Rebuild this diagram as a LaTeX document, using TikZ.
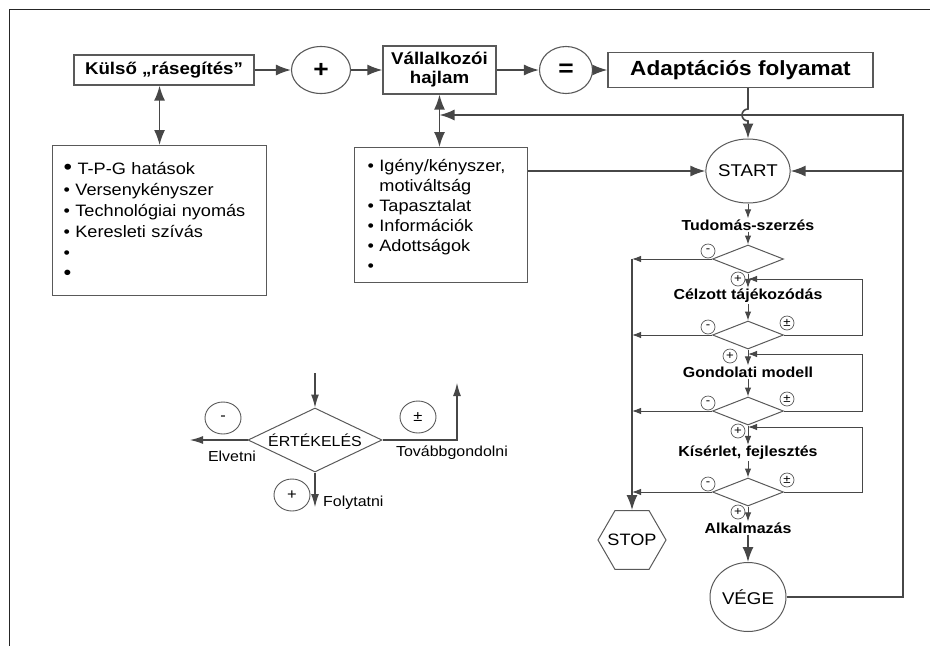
\documentclass[tikz,border=0pt]{standalone}
\usepackage{fontspec}
\setmainfont[FakeStretch=1.1]{Liberation Sans}
\usetikzlibrary{shapes.geometric,arrows.meta}

\begin{document}
\begin{tikzpicture}[x=1pt,y=-1pt,
  line/.style={draw=black!72, line width=1.6pt, >={Latex[length=15pt,width=11pt]}},
  thin line/.style={draw=black!72, line width=1pt, >={Latex[length=9pt,width=6.5pt]}},
  legend line/.style={draw=black!72, line width=1.1pt, >={Latex[length=13pt,width=8pt]}},
  topbox/.style={draw=black!65, line width=1.3pt, inner sep=0pt, align=center, font=\bfseries\fontsize{17}{19}\selectfont},
  opcircle/.style={ellipse, draw=black!65, line width=1.1pt, inner sep=0pt, minimum height=47, font=\bfseries\fontsize{24}{24}\selectfont},
  listbox/.style={draw=black!65, line width=1.1pt, anchor=north west, align=left, inner ysep=0pt, inner xsep=11pt},
  test/.style={diamond, draw=black!65, line width=1pt, minimum width=71, minimum height=28, inner sep=0pt, aspect=2},
  phase/.style={inner sep=1pt, font=\bfseries\fontsize{14.5}{16}\selectfont},
  terminal/.style={ellipse, draw=black!65, line width=1pt, inner sep=0pt, font=\fontsize{17}{18}\selectfont},
  sign/.style={circle, draw=black!65, line width=0.7pt, minimum size=14, inner sep=0pt, font=\fontsize{12}{12}\selectfont},
  bigsign/.style={ellipse, draw=black!65, line width=0.9pt, minimum width=36, minimum height=32, inner sep=0pt, font=\fontsize{15}{15}\selectfont},
  note/.style={inner sep=1pt, font=\fontsize{14.5}{16}\selectfont}]

\useasboundingbox (0,0) rectangle (930,646);
\draw[black!85, line width=1pt] (9,646) -- (9,9) -- (930,9);

% top row
\node[topbox, minimum width=180, minimum height=30] (kulso) at (164,70) {Külső „rásegítés”};
\node[opcircle, minimum width=59] (plus) at (321,70) {+};
\node[topbox, minimum width=113, minimum height=48] (hajlam) at (439.5,70) {Vállalkozói\\hajlam};
\node[opcircle, minimum width=53] (equal) at (566,70) {=};
\node[topbox, minimum width=265, minimum height=35, font=\bfseries\fontsize{20.5}{24}\selectfont] (adapt) at (740.5,70) {Adaptációs folyamat};
\draw[line,->] (kulso) -- (plus);
\draw[line,->] (plus) -- (hajlam);
\draw[line,->] (hajlam) -- (equal);
\draw[line,->] (equal) -- (adapt);

% factor lists
\node[listbox, text width=192, minimum height=150, font=\fontsize{16.5}{21}\selectfont] (lista) at (52,145)
  {{\fontsize{22}{21}\selectfont•}~T-P-G hatások\\• Versenykényszer\\• Technológiai nyomás\\• Keresleti szívás\\•\\{\fontsize{20}{21}\selectfont•}};
\node[listbox, inner xsep=13pt, text width=147, minimum height=135, font=\fontsize{16.5}{20}\selectfont] (listb) at (354,147)
  {• Igény/kényszer,\\\phantom{• }motiváltság\\• Tapasztalat\\• Információk\\• Adottságok\\•};
\draw[line,<->] (lista.north |- kulso.south) -- (lista.north);
\draw[line,<->] (hajlam.south) -- (hajlam.south |- listb.north);

% process
\node[terminal, minimum width=73, minimum height=64] (start) at (748,171) {START};
\node[phase] (l1) at (748,225) {Tudomás-szerzés};
\node[test] (d1) at (748,259) {};
\node[phase] (l2) at (748,296) {Célzott tájékozódás};
\node[test] (d2) at (748,335) {};
\node[phase] (l3) at (748,372) {Gondolati modell};
\node[test] (d3) at (748,411) {};
\node[phase] (l4) at (748,453) {Kísérlet, fejlesztés};
\node[test] (d4) at (748,492) {};
\node[phase] (l5) at (748,528) {Alkalmazás};
\node[terminal, minimum width=76, minimum height=69] (vege) at (748,597) {VÉGE};
\node[regular polygon, regular polygon sides=6, draw=black!65, line width=1pt, minimum size=68, inner sep=-8pt,
  font=\fontsize{16.5}{18}\selectfont] (stop) at (632,540) {STOP};

\draw[thin line,->] (start) -- (l1);
\draw[thin line,->] (l1) -- (d1);
\draw[thin line,->] (d1) -- (l2);
\draw[thin line,->] (l2) -- (d2);
\draw[thin line,->] (d2) -- (l3);
\draw[thin line,->] (l3) -- (d3);
\draw[thin line,->] (d3) -- (l4);
\draw[thin line,->] (l4) -- (d4);
\draw[thin line,->] (d4) -- (l5);
\draw[line,->] (l5) -- (vege);

% rejected branches
\foreach \d in {d1,d2,d3,d4}
  \draw[thin line,->] (\d.west) -- (\d.west -| stop.north);
\draw[line,->] (d1.west -| stop.north) -- (stop.north);

% loops back
\coordinate (r2) at (862,279);
\coordinate (r3) at (862,354);
\coordinate (r4) at (862,427);
\draw[thin line,->] (d2.east) -| (r2) -- (r2 -| d1.south);
\draw[thin line,->] (d3.east) -| (r3) -- (r3 -| d2.south);
\draw[thin line,->] (d4.east) -| (r4) -- (r4 -| d3.south);

% signs at the tests
\foreach \d in {d1,d2,d3,d4}
  \node[sign] (neg\d) at ([shift={(-40,-8)}]\d.center) {-};
\foreach \d in {d1,d3,d4}
  \node[sign] (pos\d) at ([shift={(-10,20)}]\d.center) {+};
\node[sign] (posd2) at ([shift={(-18,21)}]d2.center) {+};
\foreach \d in {d2,d3,d4}
  \node[sign] (pm\d) at ([shift={(39,-12)}]\d.center) {±};

% feedback
\coordinate (fbtop) at (903,115);
\coordinate (fbmid) at (903,171);
\draw[line,->] (vege.east) -| (fbtop) -- (fbtop -| hajlam.south);
\draw[line,->] (fbmid) -- (start.east);
\draw[line,->] (listb.east |- start.west) -- (start.west);
\draw[line,->] (start.north |- adapt.south) -- (start.north |- 0,109)
  arc[start angle=270, end angle=90, radius=6] -- (start.north);

% legend
\node[test, minimum width=134, minimum height=64, font=\fontsize{14.5}{16}\selectfont] (ertek) at (315,440) {ÉRTÉKELÉS};
\coordinate (ein) at (315,373);
\coordinate (eleft) at (190,440);
\coordinate (eup) at (457,383);
\coordinate (edown) at (315,507);
\draw[legend line,->] (ein) -- (ertek.north);
\draw[legend line,->] (ertek.west) -- (eleft);
\draw[legend line,->] (ertek.east) -| (eup);
\draw[legend line,->] (ertek.south) -- (edown);
\node[bigsign] (eneg) at (223,418) {-};
\node[bigsign] (epm) at (418,417) {±};
\node[bigsign] (epos) at (292,495) {+};
\node[note] (elvet) at (232,456) {Elvetni};
\node[note] (tovabb) at (452,453) {Továbbgondolni};
\node[note, anchor=west] (folyt) at (322,503) {Folytatni};
\end{tikzpicture}
\end{document}
